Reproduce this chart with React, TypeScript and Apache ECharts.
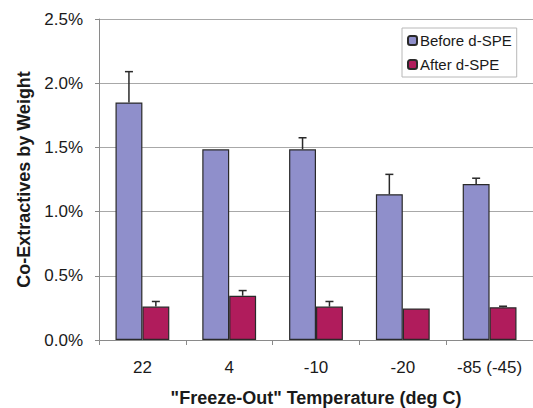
import React, { useEffect, useRef } from "react";
import * as echarts from "echarts";

const categories = ["22", "4", "-10", "-20", "-85 (-45)"];
const beforeValues = [1.85, 1.485, 1.485, 1.135, 1.215];
const beforeErrors = [0.24, 0, 0.09, 0.155, 0.045];
const afterValues = [0.26, 0.345, 0.26, 0.245, 0.255];
const afterErrors = [0.04, 0.04, 0.04, 0, 0.008];
const yTicks = [0, 0.5, 1.0, 1.5, 2.0, 2.5];

const BAR_CAT_GAP = 0.38;
const FONT = "Liberation Sans, Arial, sans-serif";

function errorSeries(name: string, values: number[], errors: number[], side: number) {
  return {
    type: "custom",
    name: name + " err",
    z: 10,
    silent: true,
    renderItem: (params: any, api: any) => {
      const idx = api.value(0);
      const val = api.value(1);
      const err = api.value(2);
      const base = api.coord([idx, val]);
      const top = api.coord([idx, val + err]);
      const band = api.size([1, 0])[0];
      const bw = (band * (1 - BAR_CAT_GAP)) / 2;
      const x = base[0] + (side * bw) / 2;
      const cap = 4;
      if (err <= 0) return { type: "group", children: [] };
      return {
        type: "group",
        children: [
          { type: "line", shape: { x1: x, y1: base[1], x2: x, y2: top[1] }, style: { stroke: "#2a2a2a", lineWidth: 1.5 } },
          { type: "line", shape: { x1: x - cap, y1: top[1], x2: x + cap, y2: top[1] }, style: { stroke: "#2a2a2a", lineWidth: 1.5 } },
        ],
      };
    },
    data: values.map((v, i) => [i, v, errors[i]]),
  };
}

export default function App() {
  const ref = useRef<HTMLDivElement>(null);
  useEffect(() => {
    if (!ref.current) return;
    const chart = echarts.init(ref.current, undefined, { renderer: "svg" });
    chart.setOption({
      animation: false,
      backgroundColor: "#ffffff",
      textStyle: { fontFamily: FONT },
      grid: { left: 99, right: 0, top: 19, bottom: 68, containLabel: false, outerBoundsMode: "none" },
      legend: {
        orient: "vertical",
        left: 402,
        top: 28,
        padding: [5, 5, 5, 5],
        itemWidth: 9,
        itemHeight: 9,
        itemGap: 9,
        backgroundColor: "#ffffff",
        borderColor: "#b8b8b8",
        borderWidth: 1,
        textStyle: { fontSize: 15, color: "#1a1a1a", fontFamily: FONT, padding: [0, 0, 0, -2] },
        data: ["Before d-SPE", "After d-SPE"],
      },
      xAxis: {
        type: "category",
        data: categories,
        axisLine: { lineStyle: { color: "#8a8a8a", width: 1 } },
        axisTick: { show: true, length: 5, inside: false, lineStyle: { color: "#8a8a8a" } },
        axisLabel: { fontSize: 17, color: "#1a1a1a", margin: 19, fontFamily: FONT },
        name: '"Freeze-Out" Temperature (deg C)',
        nameLocation: "middle",
        nameGap: 49,
        nameTextStyle: { fontSize: 18, fontWeight: "bold", color: "#1a1a1a", fontFamily: FONT },
      },
      yAxis: {
        type: "value",
        min: yTicks[0],
        max: yTicks[yTicks.length - 1],
        interval: 0.5,
        axisLine: { show: true, lineStyle: { color: "#8a8a8a", width: 1 } },
        axisTick: { show: true, length: 4, lineStyle: { color: "#8a8a8a" } },
        splitLine: { show: true, lineStyle: { color: "#a8a8a8", width: 1 } },
        axisLabel: {
          fontSize: 17,
          color: "#1a1a1a",
          margin: 16,
          fontFamily: FONT,
          formatter: (v: number) => v.toFixed(1) + "%",
        },
        name: "Co-Extractives by Weight",
        nameLocation: "middle",
        nameGap: 66,
        nameTextStyle: { fontSize: 18, fontWeight: "bold", color: "#1a1a1a", fontFamily: FONT },
      },
      series: [
        {
          type: "bar",
          name: "Before d-SPE",
          data: beforeValues,
          barGap: "0%",
          barCategoryGap: BAR_CAT_GAP * 100 + "%",
          itemStyle: { color: "#8f8fcb", borderColor: "#2a2a2a", borderWidth: 1.2 },
        },
        {
          type: "bar",
          name: "After d-SPE",
          data: afterValues,
          barGap: "0%",
          barCategoryGap: BAR_CAT_GAP * 100 + "%",
          itemStyle: { color: "#b01c5c", borderColor: "#2a2a2a", borderWidth: 1.2 },
        },
        errorSeries("Before d-SPE", beforeValues, beforeErrors, -1),
        errorSeries("After d-SPE", afterValues, afterErrors, 1),
      ],
    });
    return () => chart.dispose();
  }, []);
  return <div ref={ref} style={{ width: 533, height: 408, position: "absolute", left: 0, top: 0 }} />;
}
